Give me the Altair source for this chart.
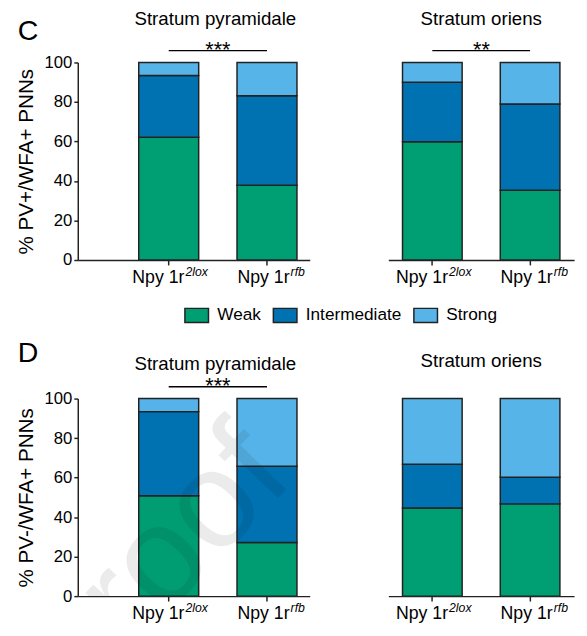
import altair as alt
import pandas as pd

# ---------------- data ----------------
genotypes = ["2lox", "rfb"]
genotype_prefix = "Npy 1r"
intensities = ["Weak", "Intermediate", "Strong"]
palette = ["#009E73", "#0072B2", "#56B4E9"]

regions = ["Stratum pyramidale", "Stratum oriens"]
panel_letters = ["C", "D"]
y_titles = ["% PV+/WFA+ PNNs", "% PV-/WFA+ PNNs"]
y_ticks = [0, 20, 40, 60, 80, 100]
watermark = "proof"

# percentages [Weak, Intermediate, Strong]
C_pyr_2lox = [62.2, 31.2, 6.6]
C_pyr_rfb = [37.8, 45.4, 16.8]
C_ori_2lox = [59.9, 30.1, 10.0]
C_ori_rfb = [35.3, 43.7, 21.0]
D_pyr_2lox = [50.8, 42.6, 6.6]
D_pyr_rfb = [27.1, 38.6, 34.3]
D_ori_2lox = [44.6, 22.2, 33.2]
D_ori_rfb = [46.7, 13.5, 39.8]

sig_C = ["***", "**"]
sig_D = ["***", ""]
sig_level = 106

# ---------------- style ----------------
FONT = "Liberation Sans"
INK = "#222222"
PLOT_H = 201
STEP = 100
LEFT_W = 236
RIGHT_W = 189
LABEL_DX = {"2lox": 16, "rfb": 23}


def panel(v2lox, vrfb, title, sig, left, ytitle=None, legend=False, letter=None,
          letter_y=-23, title_offset=0, mark_proof=False):
    rows = []
    for g, vals in zip(genotypes, [v2lox, vrfb]):
        for i, (k, v) in enumerate(zip(intensities, vals)):
            rows.append({"g": g, "k": k, "v": v, "o": i})
    df = pd.DataFrame(rows)

    if left:
        width = LEFT_W
        xs = alt.Scale(domain=genotypes, paddingInner=0.39, paddingOuter=0.375, align=0.827)
    else:
        width = RIGHT_W
        xs = alt.Scale(domain=genotypes, paddingInner=0.39, paddingOuter=0.145)

    xax = alt.Axis(title=None, labels=False, ticks=True, tickSize=5, tickWidth=1.5,
                   tickColor=INK, domainColor=INK, domainWidth=1.5, grid=False)
    if left:
        yax = alt.Axis(title=ytitle, values=y_ticks, tickSize=4, tickWidth=1.5, tickColor=INK,
                       domainColor=INK, domainWidth=1.5, labelFontSize=17, labelColor="black",
                       labelPadding=2, titleFontSize=21, titleFontWeight="normal",
                       titleColor="black", titlePadding=8, grid=False)
    else:
        yax = None

    if legend:
        leg = alt.Legend(orient="none", legendX=108, legendY=244, direction="horizontal",
                         title=None, symbolType="M-1,-0.6L1,-0.6L1,0.6L-1,0.6Z",
                         symbolSize=576, symbolStrokeColor=INK, symbolStrokeWidth=1.5,
                         labelFontSize=17.5, labelColor="black", labelOffset=8,
                         columnPadding=9, symbolOffset=0)
    else:
        leg = None

    bars = alt.Chart(df).mark_bar(stroke=INK, strokeWidth=1.5).encode(
        x=alt.X("g:N", scale=xs, axis=xax),
        y=alt.Y("v:Q", stack="zero", scale=alt.Scale(domain=[0, 100], nice=False), axis=yax),
        color=alt.Color("k:N", scale=alt.Scale(domain=intensities, range=palette), legend=leg),
        order=alt.Order("o:Q"),
    )

    lab = pd.DataFrame({"g": genotypes, "y": [0, 0], "main": [genotype_prefix] * 2, "sup": genotypes})
    layers = [bars]
    for g in genotypes:
        dxm = LABEL_DX[g]
        sub = alt.Chart(lab).transform_filter(alt.datum.g == g)
        layers.append(sub.mark_text(align="right", baseline="alphabetic", dx=dxm, dy=23,
                                    fontSize=18, font=FONT, color="black")
                      .encode(x="g:N", y="y:Q", text="main:N"))
        layers.append(sub.mark_text(align="left", baseline="alphabetic", dx=dxm + 1, dy=16,
                                    fontSize=12.5, fontStyle="italic", font=FONT, color="black")
                      .encode(x="g:N", y="y:Q", text="sup:N"))

    if sig:
        sd = pd.DataFrame({"g": [genotypes[0]], "g2": [genotypes[1]], "y": [sig_level], "s": [sig]})
        layers.append(alt.Chart(sd).mark_rule(color="black", strokeWidth=1.5)
                      .encode(x="g:N", x2="g2:N", y="y:Q"))
        layers.append(alt.Chart(sd).mark_text(align="center", baseline="alphabetic", dx=STEP / 2,
                                              dy=6, fontSize=22, font=FONT, color="black")
                      .encode(x="g:N", y="y:Q", text="s:N"))

    if letter:
        layers.append(alt.Chart(pd.DataFrame({"t": [letter]}))
                      .mark_text(align="left", baseline="alphabetic", fontSize=29, font=FONT,
                                 color="black")
                      .encode(x=alt.value(-61), y=alt.value(letter_y), text="t:N"))

    if mark_proof:
        # faint "proof" watermark of the source page, clipped to the plot area
        layers.append(alt.Chart(pd.DataFrame({"t": [watermark]}))
                      .mark_text(align="center", baseline="middle", fontSize=140, font=FONT,
                                 angle=314, color="black", opacity=0.08, clip=True)
                      .encode(x=alt.value(81), y=alt.value(168), text="t:N"))

    ttl = alt.Title(title, frame="group", anchor="middle", dx=(22 if left else 0),
                    offset=title_offset, fontSize=19, fontWeight="normal", font=FONT,
                    color="black", baseline="alphabetic")
    return alt.layer(*layers).properties(width=width, height=PLOT_H, title=ttl)


cl = panel(C_pyr_2lox, C_pyr_rfb, regions[0], sig_C[0], True, ytitle=y_titles[0], legend=True,
           letter=panel_letters[0], letter_y=-23, title_offset=-27)
cr = panel(C_ori_2lox, C_ori_rfb, regions[1], sig_C[1], False, title_offset=-5)
dl = panel(D_pyr_2lox, D_pyr_rfb, regions[0], sig_D[0], True, ytitle=y_titles[1],
           letter=panel_letters[1], letter_y=-37, title_offset=-50, mark_proof=True)
dr = panel(D_ori_2lox, D_ori_rfb, regions[1], sig_D[1], False, title_offset=12)

chart = (
    alt.concat(cl, cr, dl, dr, columns=2, spacing={"row": 141, "column": 80}, bounds="flush")
    .resolve_scale(color="independent", x="independent", y="independent")
    .properties(padding={"left": 7, "top": -4, "right": 5, "bottom": 0}, background="white")
    .configure_view(stroke=None)
    .configure_axis(labelFont=FONT, titleFont=FONT)
    .configure_legend(labelFont=FONT)
    .configure_title(font=FONT)
)

chart.save("out.html", embed_options={"renderer": "svg", "actions": False})
